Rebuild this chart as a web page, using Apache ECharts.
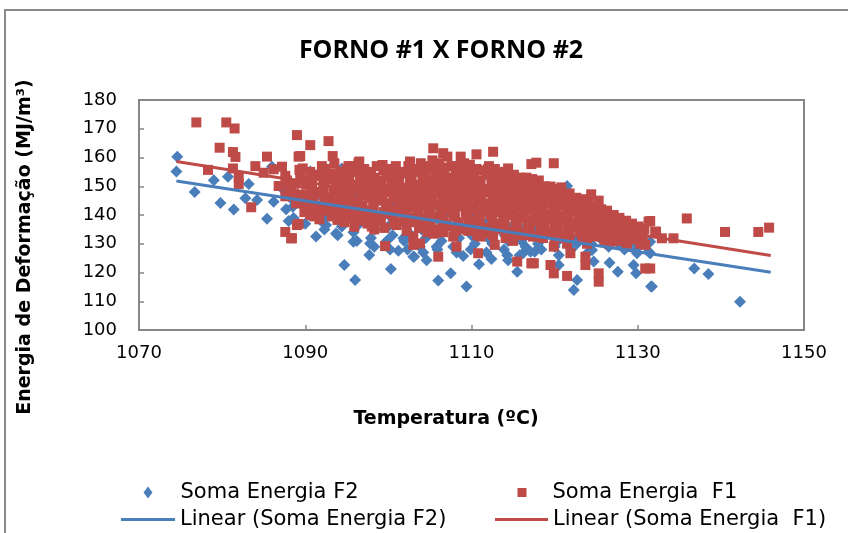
<!DOCTYPE html>
<html>
<head>
<meta charset="utf-8">
<script src="https://cdn.jsdelivr.net/npm/echarts@6/dist/echarts.min.js"></script>
<style>
  html, body { margin: 0; padding: 0; background: #fff; }
  #chart { width: 848px; height: 533px; }
</style>
</head>
<body>
<div id="chart"></div>
<script>
// eixos
var xTicks = [1070, 1090, 1110, 1130, 1150];
var yTicks = [100, 110, 120, 130, 140, 150, 160, 170, 180];

// Soma Energia F2 (temperatura, energia)
var somaF2 = [
    [1074.6, 160.3], [1074.5, 155.1], [1076.7, 148.0], [1079.0, 152.1], [1080.7, 153.3],
    [1079.8, 144.2], [1081.4, 141.9], [1083.2, 150.8], [1082.8, 145.8], [1084.2, 145.2],
    [1085.4, 138.7], [1086.2, 144.6], [1088.0, 137.9], [1086.0, 156.8], [1087.4, 148.7],
    [1088.5, 142.9], [1091.3, 132.5], [1094.7, 122.6], [1096.0, 117.4], [1097.7, 126.1],
    [1100.3, 121.2], [1101.2, 127.6], [1103.1, 125.5], [1092.5, 136.5], [1093.7, 133.6],
    [1095.8, 130.7], [1097.8, 130.1], [1098.6, 149.9], [1090.6, 155.1], [1094.4, 156.2],
    [1101.8, 131.9], [1100.2, 155.1], [1106.0, 117.2], [1107.5, 119.7], [1109.4, 115.1],
    [1110.9, 122.9], [1112.4, 124.7], [1114.4, 124.3], [1115.5, 120.3], [1109.0, 125.7],
    [1104.6, 124.3], [1103.0, 125.5], [1104.2, 135.4], [1105.8, 129.0], [1114.8, 135.9],
    [1116.2, 126.7], [1117.6, 127.2], [1109.2, 148.7], [1103.8, 148.7], [1121.5, 150.1],
    [1127.2, 137.3], [1126.6, 123.4], [1127.6, 120.3], [1122.7, 117.4], [1122.3, 113.9],
    [1131.6, 115.1], [1129.5, 122.6], [1129.8, 119.7], [1129.9, 126.7], [1131.3, 127.2],
    [1124.5, 127.8], [1124.7, 123.8], [1120.5, 122.6], [1117.1, 127.2], [1126.3, 131.3],
    [1127.5, 133.6], [1129.1, 130.1], [1122.7, 130.1], [1131.5, 130.7], [1131.5, 126.7],
    [1131.7, 115.1], [1136.8, 121.4], [1138.5, 119.5], [1142.3, 109.8],
    [1088.2, 146], [1087.7, 142], [1088.6, 139],
    [1090.2, 147], [1089.8, 144], [1090.5, 140], [1090.0, 137],
    [1092.1, 146], [1091.7, 143], [1092.4, 140], [1091.9, 138], [1092.3, 135],
    [1094.2, 147], [1093.8, 144], [1094.5, 142], [1094.0, 139], [1094.4, 136], [1093.9, 133],
    [1096.1, 146], [1095.7, 143], [1096.4, 141], [1096.0, 139], [1096.5, 137], [1095.8, 134], [1096.2, 131],
    [1098.2, 145], [1097.8, 142], [1098.5, 140], [1098.0, 138], [1098.4, 135], [1097.9, 132], [1098.3, 129],
    [1100.1, 144], [1099.7, 141], [1100.4, 139], [1100.0, 136], [1100.5, 133], [1099.8, 131], [1100.2, 128],
    [1102.2, 145], [1101.8, 142], [1102.5, 139], [1102.0, 137], [1102.4, 134], [1101.9, 131], [1102.3, 128],
    [1104.1, 143], [1103.7, 140], [1104.4, 138], [1104.0, 135], [1104.5, 132], [1103.8, 129], [1104.2, 127],
    [1106.2, 142], [1105.8, 139], [1106.5, 137], [1106.0, 134], [1106.4, 131], [1105.9, 128],
    [1108.1, 143], [1107.7, 140], [1108.4, 137], [1108.0, 135], [1108.5, 132], [1107.8, 129], [1108.2, 127],
    [1110.2, 141], [1109.8, 138], [1110.5, 136], [1110.0, 133], [1110.4, 130], [1109.9, 128],
    [1112.1, 140], [1111.7, 137], [1112.4, 135], [1112.0, 132], [1112.5, 130], [1111.8, 127],
    [1114.2, 141], [1113.8, 138], [1114.5, 135], [1114.0, 133], [1114.4, 131], [1113.9, 128], [1114.3, 126],
    [1116.1, 139], [1115.7, 136], [1116.4, 134], [1116.0, 131], [1116.5, 129], [1115.8, 126],
    [1118.2, 138], [1117.8, 135], [1118.5, 133], [1118.0, 130], [1118.4, 128],
    [1120.1, 137], [1119.7, 134], [1120.4, 131], [1120.0, 129], [1120.5, 126],
    [1122.2, 136], [1121.8, 133], [1122.5, 131], [1122.0, 128],
    [1124.1, 135], [1123.7, 132], [1124.4, 130], [1124.0, 127],
    [1126.2, 134], [1125.8, 131], [1126.5, 129],
    [1128.1, 133], [1127.7, 130], [1128.4, 128],
    [1130.2, 131], [1129.8, 128]
];

// Soma Energia  F1
var somaF1 = [
    [1076.9, 172.2], [1080.5, 172.2], [1081.5, 170.1], [1089.0, 167.8], [1079.7, 163.4],
    [1081.3, 161.9], [1081.6, 160.2], [1085.4, 160.3], [1078.3, 155.7], [1081.3, 156.2],
    [1082.0, 153.3], [1082.0, 150.8], [1084.0, 157.0], [1085.0, 154.7], [1083.5, 142.7],
    [1086.2, 155.9], [1087.2, 156.8], [1087.6, 153.6], [1086.8, 150.1], [1088.0, 149.2],
    [1087.6, 134.1], [1088.3, 131.9], [1089.0, 136.5], [1089.2, 160.3], [1089.3, 155.7],
    [1090.6, 164.3], [1092.8, 165.7], [1089.4, 160.5], [1093.3, 160.5], [1089.7, 156.2],
    [1092.9, 154.5], [1095.2, 157.0], [1096.5, 158.6], [1099.3, 157.4], [1102.6, 158.6],
    [1089.2, 136.9], [1088.4, 131.9], [1090.0, 141.7], [1092.0, 141.7], [1093.9, 138.3],
    [1095.9, 135.9], [1098.3, 135.0], [1099.6, 129.2], [1103.0, 129.6], [1099.0, 138.3],
    [1105.4, 163.2], [1106.6, 161.5], [1107.1, 160.3], [1108.7, 160.3], [1110.6, 161.1],
    [1112.6, 162.0], [1117.2, 157.7], [1117.8, 158.2], [1104.2, 156.2], [1106.0, 155.7],
    [1109.8, 155.9], [1112.0, 155.9], [1114.4, 156.2], [1114.2, 153.3], [1109.0, 153.9],
    [1117.2, 149.9], [1106.0, 125.5], [1108.2, 129.0], [1110.8, 126.7], [1115.5, 123.8],
    [1117.2, 123.2], [1112.8, 129.6], [1103.8, 130.1], [1103.0, 132.5], [1107.8, 132.5],
    [1111.8, 133.6], [1119.9, 158.0], [1119.5, 149.9], [1120.8, 149.6], [1117.5, 149.9],
    [1117.7, 145.8], [1119.9, 145.8], [1124.4, 147.2], [1125.3, 145.0], [1123.3, 144.7],
    [1126.1, 140.8], [1126.2, 136.5], [1127.4, 134.2], [1129.0, 135.9], [1131.3, 137.7],
    [1132.1, 134.2], [1130.9, 129.6], [1128.7, 130.1], [1121.9, 126.7], [1123.7, 125.5],
    [1123.7, 122.6], [1125.3, 119.7], [1125.3, 116.8], [1121.5, 118.8], [1119.9, 119.7],
    [1117.5, 123.2], [1119.5, 122.6], [1130.9, 121.4], [1117.9, 132.5], [1119.9, 129.0],
    [1121.1, 132.5], [1123.1, 135.9], [1125.1, 133.6], [1118.6, 140.6], [1121.1, 139.4],
    [1122.7, 141.7], [1131.5, 137.9], [1135.9, 138.8], [1132.2, 134.2], [1132.9, 131.9],
    [1134.3, 131.9], [1140.5, 134.1], [1144.5, 134.1], [1145.8, 135.6], [1131.5, 121.4],
    [1087.8, 152], [1088.3, 149], [1087.6, 146.5], [1088.9, 144],
    [1089.4, 153], [1090.1, 150.5], [1089.7, 147], [1090.3, 144.5], [1089.9, 141],
    [1091.2, 154], [1090.8, 151], [1091.5, 148], [1091.0, 145.5], [1091.7, 142], [1091.1, 139.5],
    [1092.4, 156], [1092.9, 152.5], [1092.2, 149], [1093.0, 146], [1092.6, 143.5], [1093.2, 140],
    [1094.1, 155], [1093.8, 152], [1094.5, 150], [1094.0, 147.5], [1094.7, 144], [1094.2, 141], [1093.9, 138.5],
    [1095.6, 157], [1095.3, 153.5], [1095.9, 150.5], [1095.4, 148], [1096.0, 145], [1095.5, 142], [1095.8, 139],
    [1097.1, 156], [1096.8, 154], [1097.4, 151], [1097.0, 148.5], [1097.6, 146], [1096.9, 143], [1097.3, 140.5], [1097.5, 137],
    [1098.6, 157], [1098.3, 153], [1099.0, 150.5], [1098.5, 147], [1098.9, 145], [1098.2, 142.5], [1098.7, 139],
    [1100.1, 156], [1099.8, 153.5], [1100.4, 151], [1100.0, 148], [1100.6, 146], [1099.9, 143], [1100.3, 140.5], [1100.7, 137],
    [1101.6, 155], [1101.3, 152], [1101.9, 149.5], [1101.5, 147], [1102.0, 144], [1101.4, 141.5], [1101.8, 138],
    [1103.1, 156], [1102.8, 153], [1103.4, 150.5], [1103.0, 148], [1103.6, 145], [1102.9, 142.5], [1103.3, 139], [1103.7, 136],
    [1104.6, 157], [1104.3, 154], [1104.9, 151], [1104.4, 148.5], [1105.0, 146], [1104.5, 143], [1104.8, 140], [1104.2, 137], [1104.7, 134],
    [1106.1, 158], [1105.8, 154.5], [1106.4, 151], [1106.0, 149], [1106.5, 146], [1105.9, 143.5], [1106.3, 141], [1106.6, 138], [1106.1, 135],
    [1107.6, 157], [1107.3, 153], [1107.9, 150.5], [1107.5, 148], [1108.0, 145], [1107.4, 142], [1107.8, 139.5], [1107.2, 136],
    [1109.1, 158], [1108.8, 155], [1109.4, 152], [1109.0, 149.5], [1109.5, 146], [1108.9, 144], [1109.3, 141], [1109.6, 138], [1109.0, 135],
    [1110.6, 156], [1110.3, 153], [1110.9, 150], [1110.5, 147.5], [1111.0, 145], [1110.4, 142], [1110.8, 139], [1110.2, 136.5], [1110.7, 133],
    [1112.1, 157], [1111.8, 154], [1112.4, 151], [1112.0, 148], [1112.5, 145.5], [1111.9, 143], [1112.3, 140], [1112.6, 137], [1112.0, 134],
    [1113.6, 155], [1113.3, 152], [1113.9, 149], [1113.5, 147], [1114.0, 144], [1113.4, 141], [1113.8, 138.5], [1113.2, 135],
    [1115.1, 154], [1114.8, 151], [1115.4, 148.5], [1115.0, 146], [1115.5, 143], [1114.9, 140], [1115.3, 137], [1115.6, 134], [1115.0, 131],
    [1116.6, 153], [1116.3, 150], [1116.9, 147], [1116.5, 144.5], [1117.0, 142], [1116.4, 139], [1116.8, 136], [1116.2, 133],
    [1118.1, 152], [1117.8, 149], [1118.4, 146], [1118.0, 143], [1118.5, 141], [1117.9, 138], [1118.3, 135], [1118.6, 132],
    [1119.6, 148], [1119.3, 145], [1119.9, 143], [1119.5, 140], [1120.0, 137], [1119.4, 134],
    [1121.1, 147], [1120.8, 144], [1121.4, 141], [1121.0, 138], [1121.5, 135], [1120.9, 132],
    [1122.6, 146], [1122.3, 143], [1122.9, 140], [1122.5, 137], [1123.0, 134],
    [1124.1, 144], [1123.8, 141], [1124.4, 139], [1124.0, 136], [1124.5, 133], [1123.9, 130],
    [1125.6, 142], [1125.3, 139], [1125.9, 137], [1125.5, 134], [1126.0, 131],
    [1127.1, 140], [1126.8, 137], [1127.4, 134], [1127.0, 131],
    [1128.6, 138], [1128.3, 135], [1128.9, 132],
    [1130.1, 136], [1129.8, 133], [1130.3, 130],
    [1088.9, 151], [1088.7, 147.5], [1089.1, 145],
    [1090.6, 155], [1090.4, 152], [1090.8, 149], [1090.5, 146], [1090.9, 143], [1090.6, 140],
    [1092.0, 157], [1091.8, 153.5], [1092.2, 150.5], [1091.9, 147.5], [1092.3, 144.5], [1092.0, 141.5], [1091.7, 138.5],
    [1093.5, 158], [1093.3, 154], [1093.7, 151], [1093.4, 148.5], [1093.8, 145.5], [1093.5, 142.5], [1093.2, 139.5],
    [1095.0, 156], [1094.8, 152.5], [1095.2, 149.5], [1094.9, 146.5], [1095.3, 143.5], [1095.0, 140.5], [1094.7, 137.5],
    [1096.4, 158], [1096.2, 155], [1096.6, 152], [1096.3, 149], [1096.7, 147], [1096.4, 144], [1096.1, 141], [1096.5, 138],
    [1097.9, 155], [1097.7, 152.5], [1098.1, 149.5], [1097.8, 147], [1098.2, 144], [1097.9, 141.5], [1097.6, 138.5], [1098.0, 136],
    [1099.4, 155.5], [1099.2, 152], [1099.6, 149], [1099.3, 146.5], [1099.7, 144], [1099.4, 141], [1099.1, 138.5], [1099.5, 135.5],
    [1100.9, 157], [1100.7, 154], [1101.1, 150], [1100.8, 147.5], [1101.2, 145], [1100.9, 142], [1100.6, 139.5], [1101.0, 136.5],
    [1102.4, 157], [1102.2, 154.5], [1102.6, 151.5], [1102.3, 149], [1102.7, 146], [1102.4, 143.5], [1102.1, 140.5], [1102.5, 137.5], [1102.2, 134.5],
    [1103.9, 158], [1103.7, 155], [1104.1, 152], [1103.8, 149.5], [1104.2, 146.5], [1103.9, 144], [1103.6, 141.5], [1104.0, 138.5], [1103.7, 135.5],
    [1105.3, 159], [1105.1, 156], [1105.5, 152.5], [1105.2, 150], [1105.6, 147.5], [1105.3, 145], [1105.0, 142], [1105.4, 139.5], [1105.1, 136.5], [1105.5, 133.5],
    [1106.8, 156.5], [1106.6, 153.5], [1107.0, 150], [1106.7, 147], [1107.1, 144.5], [1106.8, 142], [1106.5, 139], [1106.9, 136.5], [1106.6, 134],
    [1108.3, 157], [1108.1, 154], [1108.5, 151], [1108.2, 148.5], [1108.6, 146], [1108.3, 143], [1108.0, 140.5], [1108.4, 137.5], [1108.1, 134.5],
    [1109.8, 157.5], [1109.6, 154.5], [1110.0, 151.5], [1109.7, 148.5], [1110.1, 145.5], [1109.8, 143], [1109.5, 140], [1109.9, 137], [1109.6, 134.5],
    [1111.3, 155.5], [1111.1, 152], [1111.5, 149], [1111.2, 146.5], [1111.6, 144], [1111.3, 141], [1111.0, 138], [1111.4, 135.5], [1111.1, 132.5],
    [1112.8, 156], [1112.6, 153], [1113.0, 150], [1112.7, 147.5], [1113.1, 144.5], [1112.8, 142], [1112.5, 139], [1112.9, 136], [1112.6, 133],
    [1114.3, 154.5], [1114.1, 151.5], [1114.5, 148.5], [1114.2, 146], [1114.6, 143], [1114.3, 140], [1114.0, 137], [1114.4, 134], [1114.1, 132],
    [1115.8, 153], [1115.6, 150], [1116.0, 147.5], [1115.7, 145], [1116.1, 142], [1115.8, 139], [1115.5, 136], [1115.9, 133],
    [1117.3, 152.5], [1117.1, 149.5], [1117.5, 146.5], [1117.2, 144], [1117.6, 141], [1117.3, 138], [1117.0, 135], [1117.4, 132.5],
    [1118.8, 150], [1118.6, 147], [1119.0, 144.5], [1118.7, 142], [1119.1, 139], [1118.8, 136], [1118.5, 133],
    [1120.3, 149], [1120.1, 146], [1120.5, 143.5], [1120.2, 141], [1120.6, 138], [1120.3, 135], [1120.0, 132],
    [1121.8, 147.5], [1121.6, 144.5], [1122.0, 142], [1121.7, 139], [1122.1, 136], [1121.8, 133], [1121.5, 130],
    [1123.3, 145.5], [1123.1, 142.5], [1123.5, 140], [1123.2, 137.5], [1123.6, 135], [1123.3, 132],
    [1124.8, 143], [1124.6, 140.5], [1125.0, 138], [1124.7, 135], [1125.1, 132.5],
    [1126.3, 141.5], [1126.1, 139], [1126.5, 136], [1126.2, 133], [1126.6, 130],
    [1127.8, 139], [1127.6, 136], [1128.0, 133.5], [1127.7, 131],
    [1129.3, 137], [1129.1, 134.5], [1129.5, 131.5],
    [1130.8, 135], [1130.6, 132]
];

// linhas de tendência (extremos)
var linearF2 = [[1074.5, 151.8], [1146.0, 120.1]];
var linearF1 = [[1074.5, 158.6], [1146.0, 125.9]];

var nomes = ['Soma Energia F2', 'Soma Energia  F1', 'Linear (Soma Energia F2)', 'Linear (Soma Energia  F1)'];

var azul = '#4A7EBB';
var vermelho = '#BE4B48';
var cinza = '#868686';

var chart = echarts.init(document.getElementById('chart'));

var legendText = {fontSize: 21, fontFamily: 'DejaVu Sans', color: '#000'};

var option = {
    backgroundColor: '#fff',
    animation: false,
    grid: {
        left: 139, top: 100, width: 665, height: 230,
        show: true, borderColor: cinza, borderWidth: 2, backgroundColor: 'transparent'
    },
    xAxis: {
        type: 'value', min: xTicks[0], max: xTicks[xTicks.length - 1], interval: 20,
        axisLine: {show: true, lineStyle: {color: cinza, width: 2}},
        axisTick: {show: true, inside: true, length: 5, lineStyle: {color: cinza, width: 1.5}},
        axisLabel: {fontSize: 18, fontFamily: 'DejaVu Sans', color: '#000', margin: 14,
            formatter: function (v) { return String(v); }},
        splitLine: {show: false}
    },
    yAxis: {
        type: 'value', min: yTicks[0], max: yTicks[yTicks.length - 1], interval: 10,
        axisLine: {show: true, lineStyle: {color: cinza, width: 2}},
        axisTick: {show: true, inside: true, length: 5, lineStyle: {color: cinza, width: 1.5}},
        axisLabel: {fontSize: 18, fontFamily: 'DejaVu Sans', color: '#000', margin: 22,
            formatter: function (v) { return String(v); }},
        splitLine: {show: false}
    },
    legend: [
        {
            left: 138.5, top: 477, itemWidth: 9, itemHeight: 12, symbolKeepAspect: false,
            data: [{name: nomes[0], icon: 'diamond'}],
            textStyle: Object.assign({padding: [0, 0, 0, 23]}, legendText)
        },
        {
            left: 512.5, top: 477, itemWidth: 9, itemHeight: 9, symbolKeepAspect: false,
            data: [{name: nomes[1], icon: 'rect'}],
            textStyle: Object.assign({padding: [0, 0, 0, 21]}, legendText)
        },
        {
            left: 116, top: 504, itemWidth: 54, itemHeight: 3, symbolKeepAspect: false,
            data: [{name: nomes[2], icon: 'rect'}],
            textStyle: legendText
        },
        {
            left: 490, top: 504, itemWidth: 53, itemHeight: 3, symbolKeepAspect: false,
            data: [{name: nomes[3], icon: 'rect'}],
            textStyle: legendText
        }
    ],
    graphic: [
        {
            type: 'rect', z: -10, silent: true,
            shape: {x: 5, y: 10, width: 900, height: 600},
            style: {fill: 'none', stroke: '#8a8a8a', lineWidth: 2}
        },
        {
            type: 'text', x: 441, y: 51,
            style: {text: 'FORNO #1 X FORNO #2', font: 'bold 25px "Open Sans"', fill: '#000',
                textAlign: 'center', textVerticalAlign: 'middle'}
        },
        {
            type: 'text', x: 446, y: 419,
            style: {text: 'Temperatura (ºC)', font: 'bold 19px "DejaVu Sans"', fill: '#000',
                textAlign: 'center', textVerticalAlign: 'middle'}
        },
        {
            type: 'text', x: 25, y: 247, rotation: Math.PI / 2,
            style: {text: 'Energia de Deformação (MJ/m³)', font: 'bold 19px "DejaVu Sans"', fill: '#000',
                textAlign: 'center', textVerticalAlign: 'middle'}
        }
    ],
    series: [
        {
            name: nomes[0], type: 'scatter', data: somaF2, z: 2,
            symbol: 'diamond', symbolSize: 12, itemStyle: {color: azul, opacity: 1}
        },
        {
            name: nomes[1], type: 'scatter', data: somaF1, z: 3,
            symbol: 'rect', symbolSize: 10, itemStyle: {color: vermelho, opacity: 1}
        },
        {
            name: nomes[2], type: 'line', data: linearF2, symbol: 'none', z: 10,
            lineStyle: {color: azul, width: 3}, itemStyle: {color: azul}
        },
        {
            name: nomes[3], type: 'line', data: linearF1, symbol: 'none', z: 10,
            lineStyle: {color: vermelho, width: 3}, itemStyle: {color: vermelho}
        }
    ]
};
chart.setOption(option);
</script>
</body>
</html>
